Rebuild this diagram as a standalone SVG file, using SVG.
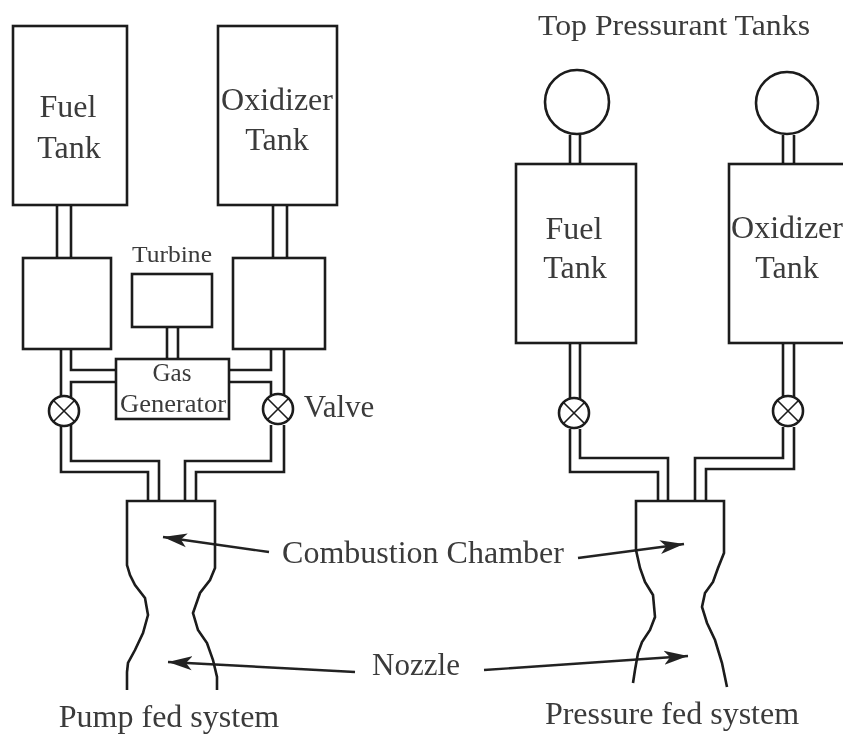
<svg xmlns="http://www.w3.org/2000/svg" width="843" height="738" viewBox="0 0 843 738">
<style>
.s{fill:none;stroke:#1a1a1a;stroke-width:2.6;stroke-linejoin:miter}
.t{font-family:"Liberation Serif","Times New Roman",serif;fill:#3a3a3a;text-anchor:middle}
.x{fill:none;stroke:#1a1a1a;stroke-width:1.6}
.a{fill:none;stroke:#222;stroke-width:2.4}
.h{fill:#222}
</style>
<defs>
<filter id="b" x="-5%" y="-5%" width="110%" height="110%"><feGaussianBlur stdDeviation="0.6"/></filter>
<marker id="m" markerUnits="userSpaceOnUse" markerWidth="28" markerHeight="18" refX="24" refY="9" orient="auto"><path class="h" d="M0 2 L24 9 L0 16 L6 9 Z"/></marker>
</defs>
<rect width="843" height="738" fill="#fff"/>
<g filter="url(#b)">
<g id="connectors">
<path class="s" d="M57 205V258M71 205V258M273 205V258M287 205V258M167 327V359M178 327V359"/>
<path class="s" d="M61 349V397M71 349V370H116M116 382H71V397"/>
<path class="s" d="M271 349V370H229M229 382H271V395M284 349V395"/>
<path class="s" d="M61 425V472H148V501M71 425V461H159V501"/>
<path class="s" d="M271 425V461H185V501M284 425V472H196V501"/>
<path class="s" d="M570 135V164M580 135V164M783 135V164M794 135V164"/>
<path class="s" d="M570 343V399M580 343V399M783 343V397M794 343V397"/>
<path class="s" d="M570 429V472H658V501M580 429V458H668V501"/>
<path class="s" d="M783 427V458H695V501M794 427V469H706V501"/>
<path class="a" marker-end="url(#m)" d="M269 552L163 537"/>
<path class="a" marker-end="url(#m)" d="M578 558L684 544"/>
<path class="a" marker-end="url(#m)" d="M355 672L168 662"/>
<path class="a" marker-end="url(#m)" d="M484 670L688 656"/>
</g>
<g id="fuel-tank-pump"><rect class="s" x="13" y="26" width="114" height="179"/><text class="t" font-size="32" x="68" y="117">Fuel</text><text class="t" font-size="32" x="69" y="158">Tank</text></g>
<g id="oxidizer-tank-pump"><rect class="s" x="218" y="26" width="119" height="179"/><text class="t" font-size="32" x="277" y="110">Oxidizer</text><text class="t" font-size="32" x="277" y="150">Tank</text></g>
<g id="pump-left"><rect class="s" x="23" y="258" width="88" height="91"/></g>
<g id="pump-right"><rect class="s" x="233" y="258" width="92" height="91"/></g>
<g id="turbine"><rect class="s" x="132" y="274" width="80" height="53"/><text class="t" font-size="24" x="172" y="262" textLength="80" lengthAdjust="spacingAndGlyphs">Turbine</text></g>
<g id="gas-generator"><rect class="s" x="116" y="359" width="113" height="60"/><text class="t" font-size="25" x="172" y="381">Gas</text><text class="t" font-size="25" x="173" y="412" textLength="106" lengthAdjust="spacingAndGlyphs">Generator</text></g>
<g id="valve-pump-left"><circle class="s" cx="64" cy="411" r="15"/><path class="x" d="M53 400L75 422M75 400L53 422"/></g>
<g id="valve-pump-right"><circle class="s" cx="278" cy="409" r="15"/><path class="x" d="M267 398L289 420M289 398L267 420" stroke-width="2.2"/><text class="t" font-size="31" x="339" y="417">Valve</text></g>
<g id="chamber-pump"><path class="s" d="M127 690V672L128 663L135 650L143 633L148 615L145 598L135 585L130 575L127 565V501H215V568L210 580L200 593L193 613L198 630L207 643L213 660L217 677V690"/></g>
<g id="pressurant-left"><circle class="s" cx="577" cy="102" r="32" fill="#fff"/></g>
<g id="pressurant-right"><circle class="s" cx="787" cy="103" r="31" fill="#fff"/></g>
<g id="fuel-tank-pressure"><rect class="s" x="516" y="164" width="120" height="179"/><text class="t" font-size="32" x="574" y="239">Fuel</text><text class="t" font-size="32" x="575" y="278">Tank</text></g>
<g id="oxidizer-tank-pressure"><rect class="s" x="729" y="164" width="116" height="179"/><text class="t" font-size="32" x="787" y="238">Oxidizer</text><text class="t" font-size="32" x="787" y="278">Tank</text></g>
<g id="valve-pressure-left"><circle class="s" cx="574" cy="413" r="15"/><path class="x" d="M563 402L585 424M585 402L563 424" stroke-width="2.2"/></g>
<g id="valve-pressure-right"><circle class="s" cx="788" cy="411" r="15"/><path class="x" d="M777 400L799 422M799 400L777 422"/></g>
<g id="chamber-pressure"><path class="s" d="M633 683L635 670L638 653L642 642L650 630L655 617L653 595L645 582L640 568L636 550V501H724V553L718 568L713 582L705 593L702 607L707 623L715 640L722 663L727 687"/></g>
<text class="t" font-size="30" x="674" y="35" textLength="272" lengthAdjust="spacingAndGlyphs">Top Pressurant Tanks</text>
<text class="t" font-size="32" x="423" y="563">Combustion Chamber</text>
<text class="t" font-size="31" x="416" y="675">Nozzle</text>
<text class="t" font-size="32" x="169" y="727">Pump fed system</text>
<text class="t" font-size="32" x="672" y="724">Pressure fed system</text>
</g>
</svg>
